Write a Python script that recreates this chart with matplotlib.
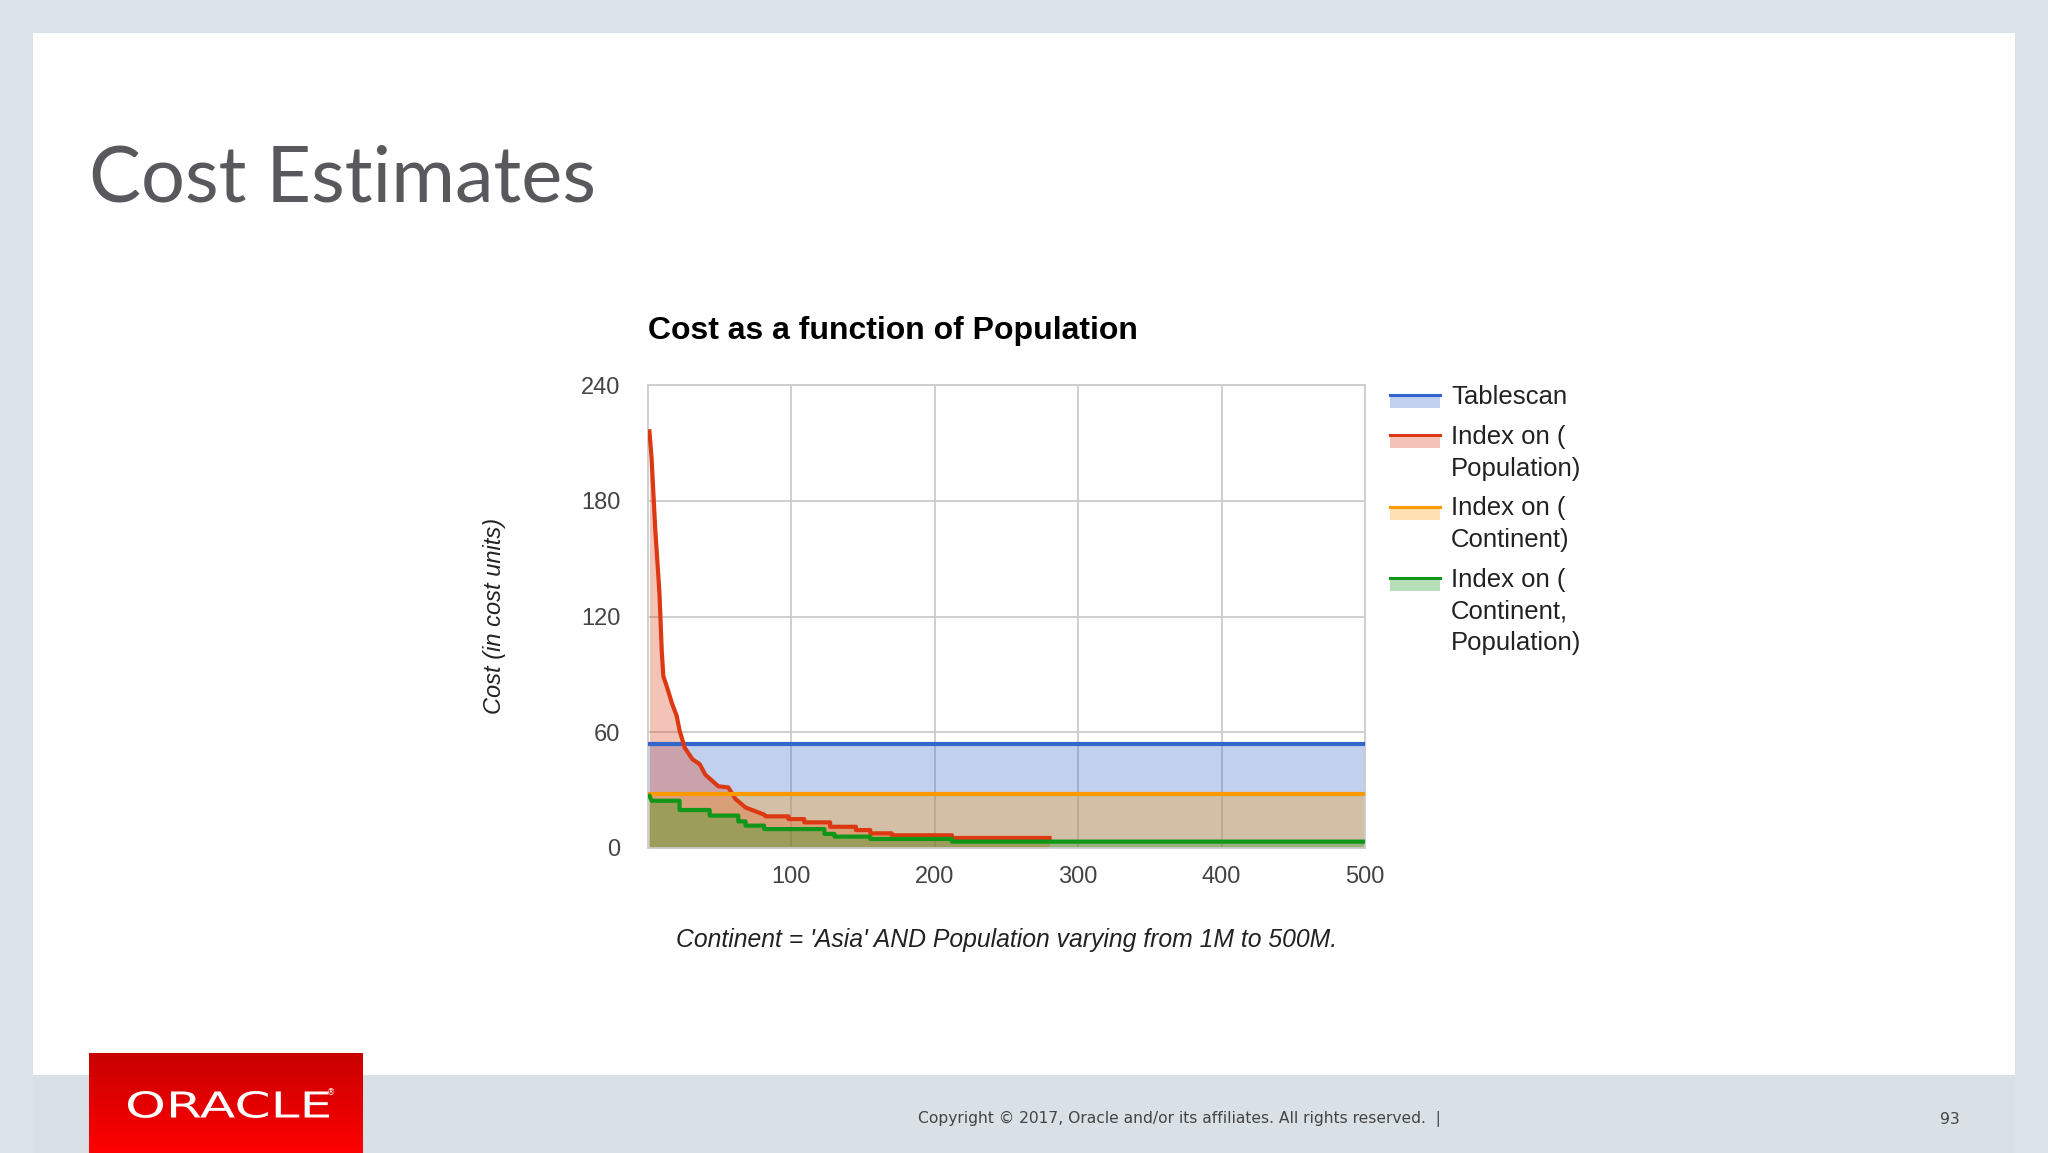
import numpy as np
import matplotlib.pyplot as plt
from matplotlib.patches import Rectangle, PathPatch
from matplotlib.textpath import TextPath
from matplotlib.font_manager import FontProperties
from matplotlib.transforms import Affine2D
from matplotlib.colors import LinearSegmentedColormap

# population (millions) vs estimated cost
pop_flat = [1, 500]
cost_tablescan = [54, 54]
cost_idx_continent = [28, 28]

pop_idx_pop = [1, 2.5, 5, 8, 9.6, 10.7, 13, 16.7, 20, 22, 25.6, 31, 36, 40, 43, 49, 56, 61, 68, 74, 81,
               82, 98, 98, 109, 109, 127, 127, 145, 145, 155, 155, 170, 170, 212, 212, 280]
cost_idx_pop = [216, 202, 166, 132, 102, 89, 84, 75, 68.5, 61, 52, 46, 43.5, 38, 36, 32, 31.4, 25.4, 21, 19.3, 17.3,
                16.4, 16.4, 15, 15, 13.3, 13.3, 11, 11, 9.3, 9.3, 7.6, 7.6, 6.6, 6.6, 5.2, 5.2]

pop_idx_both = [1, 2.5, 22, 22, 43, 43, 63, 63, 68, 68, 81, 81, 123, 123, 130, 130, 155, 155, 212, 212, 500]
cost_idx_both = [27, 24.5, 24.5, 19.7, 19.7, 16.8, 16.8, 13.8, 13.8, 11.6, 11.6, 9.8, 9.8, 7.3, 7.3,
                 5.9, 5.9, 4.7, 4.7, 3.3, 3.3]

series_names = ['Tablescan', 'Index on (\nPopulation)', 'Index on (\nContinent)',
                'Index on (\nContinent,\nPopulation)']
series_colors = ['#3366cc', '#dc3912', '#ff9900', '#109618']
x_ticks = [100, 200, 300, 400, 500]
y_ticks = [0, 60, 120, 180, 240]

W, H = 2048, 1153
fig = plt.figure(figsize=(W / 100, H / 100), dpi=100, facecolor='#dce2e9')

# slide background drawn in pixel coordinates
bg = fig.add_axes([0, 0, 1, 1], zorder=0)
bg.axis('off')
bg.add_patch(Rectangle((33, 33), 1982, 1042, facecolor='white', lw=0))
bg.add_patch(Rectangle((33, 1075), 1982, 78, facecolor='#d9e1e6', lw=0))

red_cmap = LinearSegmentedColormap.from_list('logo', ['#c80000', '#ff0000'])
bg.imshow(np.linspace(0, 1, 100)[:, None], cmap=red_cmap, aspect='auto',
          extent=(89, 363, 1153, 1053), zorder=2)

fp = FontProperties(family='DejaVu Sans')
tp = TextPath((0, 0), 'ORACLE', size=100, prop=fp)
bb = tp.get_extents()
tr = Affine2D().translate(-bb.x0, -bb.y0).scale(201 / bb.width, -27 / bb.height).translate(128, 1118)
bg.add_patch(PathPatch(tr.transform_path(tp), facecolor='white', lw=0, zorder=3))
bg.text(331, 1093, '®', color='white', fontsize=6, ha='center', va='center', zorder=3)

bg.text(89, 180, 'Cost Estimates', fontsize=56, color='#59585c', family='Lato',
        ha='left', va='center')
bg.text(918, 1119, 'Copyright © 2017, Oracle and/or its affiliates. All rights reserved.  |',
        fontsize=11.2, color='#444444', family='DejaVu Sans', ha='left', va='center')
bg.text(1950, 1119, '93', fontsize=11.2, color='#444444', family='DejaVu Sans',
        ha='center', va='center')

# chart texts
bg.text(648, 331, 'Cost as a function of Population', fontsize=23, fontweight='bold',
        family='Liberation Sans', color='black', ha='left', va='center')
bg.text(494, 616, 'Cost (in cost units)', fontsize=17, style='italic', family='Liberation Sans',
        color='#222222', rotation=90, ha='center', va='center')
bg.text(1007, 940, "Continent = 'Asia' AND Population varying from 1M to 500M.", fontsize=17.8,
        style='italic', family='Liberation Sans', color='#222222', ha='center', va='center')

# legend
ly = 395
for name, c in zip(series_names, series_colors):
    bg.add_patch(Rectangle((1390, ly + 2), 50, 11, facecolor=c, alpha=0.3, lw=0))
    bg.plot([1390, 1440], [ly, ly], color=c, lw=2.2)
    bg.text(1451, ly - 10, name, fontsize=18.5, family='Liberation Sans', color='#222222',
            ha='left', va='top', linespacing=1.4)
    ly += (name.count('\n')) * 31.5 + 40

bg.set_xlim(0, W)
bg.set_ylim(H, 0)

# chart
ax = fig.add_axes([648 / W, 1 - 848 / H, 717 / W, 463 / H], zorder=1)
ax.set_facecolor('white')
ax.fill_between(pop_flat, 0, cost_tablescan, color=series_colors[0], alpha=0.3, lw=0, zorder=2)
ax.fill_between(pop_idx_pop, 0, cost_idx_pop, color=series_colors[1], alpha=0.3, lw=0, zorder=2)
ax.fill_between(pop_flat, 0, cost_idx_continent, color=series_colors[2], alpha=0.3, lw=0, zorder=2)
ax.fill_between(pop_idx_both, 0, cost_idx_both, color=series_colors[3], alpha=0.3, lw=0, zorder=2)
ax.plot(pop_flat, cost_tablescan, color=series_colors[0], lw=3, zorder=3)
ax.plot(pop_idx_pop, cost_idx_pop, color=series_colors[1], lw=3, zorder=3)
ax.plot(pop_flat, cost_idx_continent, color=series_colors[2], lw=3, zorder=3)
ax.plot(pop_idx_both, cost_idx_both, color=series_colors[3], lw=3, zorder=3)

ax.set_xlim(0, 500)
ax.set_ylim(0, 240)
ax.set_xticks(x_ticks)
ax.set_yticks(y_ticks)
ax.grid(True, color='#cccccc', lw=1.3)
ax.set_axisbelow(True)
for s in ax.spines.values():
    s.set_color('#cccccc')
    s.set_linewidth(1.3)
ax.tick_params(axis='both', length=0, labelsize=17, labelcolor='#444444')
ax.tick_params(axis='y', pad=20)
ax.tick_params(axis='x', pad=13)
for lab in ax.get_xticklabels() + ax.get_yticklabels():
    lab.set_family('Liberation Sans')

fig.savefig('out.png', dpi=100, facecolor=fig.get_facecolor())
